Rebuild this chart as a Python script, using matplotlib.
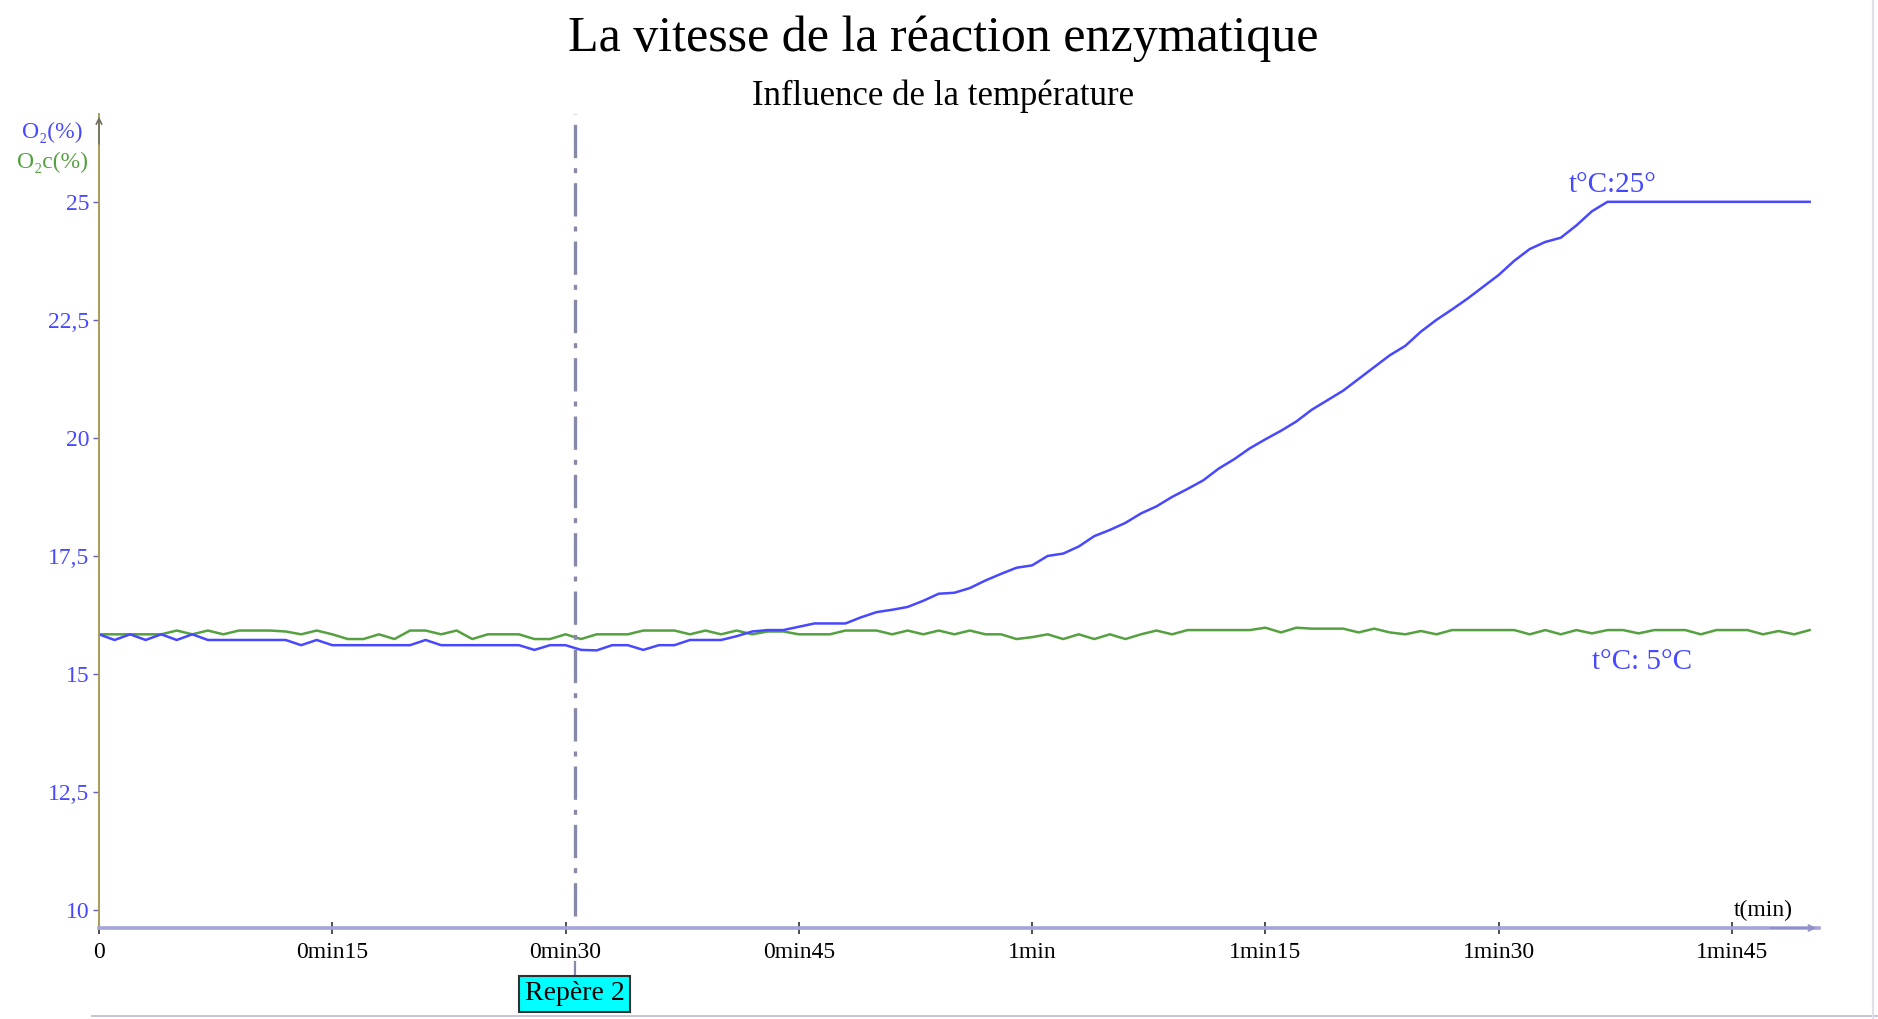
import matplotlib.pyplot as plt
from matplotlib.lines import Line2D
from matplotlib.transforms import blended_transform_factory

# Time in seconds (sampled every second)
t_s = list(range(0, 111))

# Oxygen (%) at 25 °C
o2_25 = [
    15.84, 15.72, 15.84, 15.72, 15.84, 15.72, 15.84, 15.72, 15.72, 15.72,
    15.72, 15.72, 15.72, 15.61, 15.72, 15.61, 15.61, 15.61, 15.61, 15.61,
    15.61, 15.72, 15.61, 15.61, 15.61, 15.61, 15.61, 15.61, 15.51, 15.61,
    15.61, 15.51, 15.50, 15.61, 15.61, 15.51, 15.61, 15.61, 15.72, 15.72,
    15.72, 15.80, 15.90, 15.93, 15.93, 16.00, 16.07, 16.07, 16.07, 16.20,
    16.31, 16.36, 16.42, 16.55, 16.70, 16.72, 16.82, 16.98, 17.12, 17.25,
    17.30, 17.50, 17.55, 17.70, 17.92, 18.05, 18.20, 18.40, 18.55, 18.75,
    18.92, 19.10, 19.35, 19.55, 19.78, 19.97, 20.15, 20.35, 20.60, 20.80,
    21.00, 21.25, 21.50, 21.75, 21.95, 22.25, 22.50, 22.72, 22.95, 23.20,
    23.45, 23.75, 24.00, 24.15, 24.24, 24.50, 24.80, 25.00, 25.00, 25.00,
    25.00, 25.00, 25.00, 25.00, 25.00, 25.00, 25.00, 25.00, 25.00, 25.00,
    25.00,
]

# Oxygen (%) at 5 °C
o2_5 = [
    15.84, 15.84, 15.84, 15.84, 15.84, 15.92, 15.84, 15.92, 15.84, 15.92,
    15.92, 15.92, 15.90, 15.84, 15.92, 15.84, 15.74, 15.74, 15.84, 15.74,
    15.92, 15.92, 15.84, 15.92, 15.74, 15.84, 15.84, 15.84, 15.74, 15.74,
    15.84, 15.74, 15.84, 15.84, 15.84, 15.92, 15.92, 15.92, 15.84, 15.92,
    15.84, 15.92, 15.84, 15.90, 15.90, 15.84, 15.84, 15.84, 15.92, 15.92,
    15.92, 15.84, 15.92, 15.84, 15.92, 15.84, 15.92, 15.84, 15.84, 15.74,
    15.78, 15.84, 15.74, 15.84, 15.74, 15.84, 15.74, 15.84, 15.92, 15.84,
    15.93, 15.93, 15.93, 15.93, 15.93, 15.98, 15.88, 15.98, 15.96, 15.96,
    15.96, 15.88, 15.96, 15.88, 15.84, 15.91, 15.84, 15.93, 15.93, 15.93,
    15.93, 15.93, 15.84, 15.93, 15.84, 15.93, 15.86, 15.93, 15.93, 15.86,
    15.93, 15.93, 15.93, 15.84, 15.93, 15.93, 15.93, 15.84, 15.91, 15.84,
    15.93,
]

marker_t = 30.6
marker_label = "Repère 2"

y_ticks = [10, 12.5, 15, 17.5, 20, 22.5, 25]
y_tick_labels = ["10", "12,5", "15", "17,5", "20", "22,5", "25"]
x_ticks = [0, 15, 30, 45, 60, 75, 90, 105]
x_tick_labels = ["0", "0min15", "0min30", "0min45", "1min", "1min15", "1min30", "1min45"]

BLUE = "#4848ff"
GREEN = "#55a040"
SERIF = ["Liberation Serif", "DejaVu Serif"]

plt.rcParams["font.family"] = SERIF

W, H = 1878, 1019
fig = plt.figure(figsize=(W / 100, H / 100), dpi=100)
fig.patch.set_facecolor("white")

ax_left, ax_right = 99, 1819
ax_bottom, ax_top = 928, 114
ax = fig.add_axes([ax_left / W, 1 - ax_bottom / H,
                   (ax_right - ax_left) / W, (ax_bottom - ax_top) / H])

ax.plot(t_s, o2_5, color=GREEN, lw=1.8, solid_joinstyle="round")
ax.plot(t_s, o2_25, color=BLUE, lw=1.8, solid_joinstyle="round")

ax.set_xlim(0, 110.6)
ax.set_ylim(9.62, 26.86)

for s in ("top", "right"):
    ax.spines[s].set_visible(False)
ax.spines["left"].set_color("#a89c58")
ax.spines["left"].set_linewidth(1.4)
ax.spines["bottom"].set_color("#a4a4d8")
ax.spines["bottom"].set_linewidth(2.6)

ax.set_yticks(y_ticks)
ax.set_yticklabels(y_tick_labels)
ax.set_xticks(x_ticks)
ax.set_xticklabels(x_tick_labels)
ax.tick_params(axis="y", direction="out", length=4, width=1, color="#6060c0",
               labelcolor=BLUE, labelsize=17, pad=3)
ax.tick_params(axis="x", direction="inout", length=8, width=1.2, color="#303030",
               labelcolor="black", labelsize=17, pad=6)

# Axis arrows
ax.annotate("", xy=(0, 1.0), xytext=(0, 0.96), xycoords="axes fraction",
            arrowprops=dict(arrowstyle="->", color="#707060", lw=1.2))
ax.annotate("", xy=(1.0, 0), xytext=(0.97, 0), xycoords="axes fraction",
            arrowprops=dict(arrowstyle="->", color="#9090c8", lw=1.4))

# Marker line
ax.axvline(marker_t, ymin=0.015, ymax=1.0, color="#8888a8", lw=2.4,
           dashes=(10, 3, 1.5, 3))

# Curve labels
ax.text(94.5, 25.36, "t°C:25°", color=BLUE, fontsize=21, ha="left", va="center")
ax.text(96.0, 15.25, "t°C: 5°C", color=BLUE, fontsize=21, ha="left", va="center")
ax.text(107.0, 10.0, "t(min)", color="black", fontsize=17, ha="center", va="center")

# Marker box under the axis, with its short connector
trans = blended_transform_factory(ax.transData, fig.transFigure)
ax.plot([marker_t, marker_t], [1 - 962 / H, 1 - 976 / H], transform=trans,
        color="#8888a8", lw=1.6, clip_on=False)
ax.text(marker_t, 1 - 994 / H, marker_label, transform=trans, ha="center",
        va="center", fontsize=20, color="black",
        bbox=dict(boxstyle="square,pad=0.2", fc="#00ffff", ec="#303030", lw=1.5))

# Axis names
fig.text(52 / W, 1 - 132 / H, "O₂(%)", color=BLUE, fontsize=17, ha="center", va="center")
fig.text(52 / W, 1 - 162 / H, "O₂c(%)", color=GREEN, fontsize=17, ha="center", va="center")

# Titles
fig.text(943 / W, 1 - 39 / H, "La vitesse de la réaction enzymatique",
         fontsize=36, ha="center", va="center", color="black")
fig.text(943 / W, 1 - 96 / H, "Influence de la température",
         fontsize=25, ha="center", va="center", color="black")

# Frame lines at the bottom and right
fig.add_artist(Line2D([92 / W, 1], [1 - 1016 / H] * 2, color="#c8c8d4", lw=1.5))
fig.add_artist(Line2D([1873 / W] * 2, [0, 1], color="#e0e0e8", lw=1.5))

fig.savefig("out.png", dpi=100)
